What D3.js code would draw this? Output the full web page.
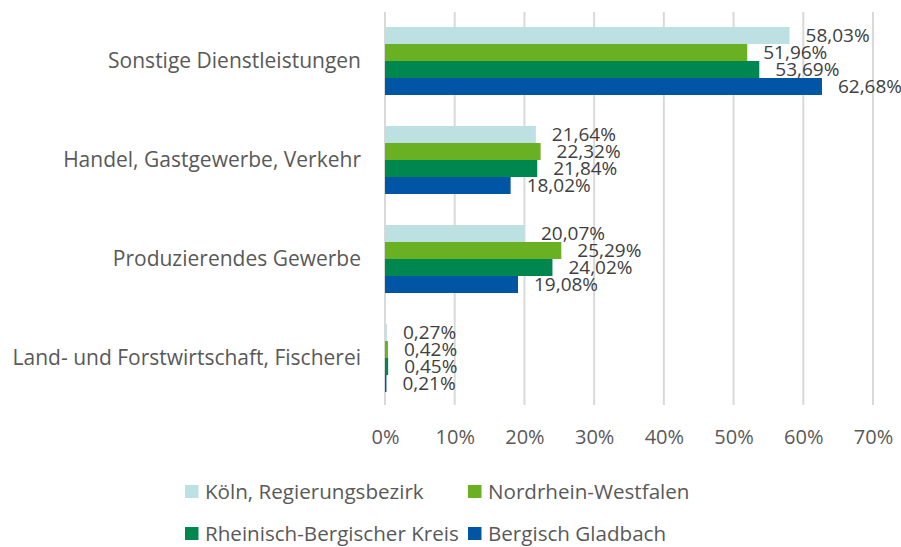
<!DOCTYPE html>
<html><head><meta charset="utf-8">
<script src="https://cdn.jsdelivr.net/npm/d3@7"></script>
<style>body{margin:0;background:#fff}svg{display:block}text{font-family:"Open Sans","Noto Sans",sans-serif}</style>
</head><body>
<svg id="c" width="901" height="547"></svg>
<script>
const categories = ["Sonstige Dienstleistungen","Handel, Gastgewerbe, Verkehr","Produzierendes Gewerbe","Land- und Forstwirtschaft, Fischerei"];
const seriesNames = ["Köln, Regierungsbezirk","Nordrhein-Westfalen","Rheinisch-Bergischer Kreis","Bergisch Gladbach"];
const koeln = [58.03, 21.64, 20.07, 0.27];
const nrw = [51.96, 22.32, 25.29, 0.42];
const rbk = [53.69, 21.84, 24.02, 0.45];
const bg = [62.68, 18.02, 19.08, 0.21];
const tickValues = [0,10,20,30,40,50,60,70];
const colors = ["#bde0e3","#6ab023","#00874f","#0056a4"];

const seriesValues = [koeln, nrw, rbk, bg];
const svg = d3.select("#c");
const x = d3.scaleLinear().domain([0,70]).range([385,873]);
const y = d3.scaleBand().domain(categories).range([11.5,407.5]).paddingInner(0.313).paddingOuter(0.1565);
const ys = d3.scaleBand().domain(seriesNames).range([0,y.bandwidth()]);
const fmt = v => d3.format(".2f")(v).replace(".",",")+"%";

// gridlines
svg.append("g").selectAll("line").data(tickValues).join("line")
  .attr("x1",d=>x(d)).attr("x2",d=>x(d)).attr("y1",12).attr("y2",405)
  .attr("stroke","#d9d9d9").attr("stroke-width",2);

// x axis tick labels
const xAxis = d3.axisBottom(x).tickValues(tickValues).tickSize(0).tickPadding(0).tickFormat(d=>d+"%");
const gx = svg.append("g").attr("transform","translate(0,430)").call(xAxis);
gx.select(".domain").remove();
gx.selectAll("text").attr("font-size",20).attr("fill","#595959").attr("dy","0.71em").style("font-family",'"Open Sans",sans-serif');

// category labels
const yAxis = d3.axisLeft(y).tickSize(0).tickPadding(24);
const gy = svg.append("g").attr("transform",`translate(${x(0)},0)`).call(yAxis);
gy.select(".domain").remove();
gy.selectAll("text").attr("font-size",21).attr("fill","#595959").style("font-family",'"Open Sans",sans-serif');

// bars
const groups = svg.append("g").selectAll("g").data(categories).join("g")
  .attr("transform",d=>`translate(0,${y(d)})`);
groups.each(function(cat,ci){
  const g = d3.select(this);
  const rows = seriesNames.map((s,si)=>({s,si,v:seriesValues[si][ci]}));
  g.selectAll("rect").data(rows).join("rect")
    .attr("x",x(0)).attr("y",d=>ys(d.s)).attr("width",d=>x(d.v)-x(0)).attr("height",ys.bandwidth())
    .attr("fill",d=>colors[d.si]);
  g.selectAll("text").data(rows).join("text")
    .attr("x",d=>x(d.v)+16).attr("y",d=>ys(d.s)+ys.bandwidth()/2).attr("dy","0.35em")
    .attr("font-size",19).attr("fill","#404040").text(d=>fmt(d.v));
});

// legend
const legendPos = [[185,491.5],[468,491.5],[185,533.5],[468,533.5]];
const lg = svg.append("g").selectAll("g").data(seriesNames).join("g")
  .attr("transform",(d,i)=>`translate(${legendPos[i][0]},${legendPos[i][1]})`);
lg.append("rect").attr("x",0).attr("y",-6.5).attr("width",13.5).attr("height",13).attr("fill",(d,i)=>colors[i]);
lg.append("text").attr("x",20).attr("y",0).attr("dy","0.35em").attr("font-size",20.6).attr("fill","#595959").text(d=>d);
</script>
</body></html>
